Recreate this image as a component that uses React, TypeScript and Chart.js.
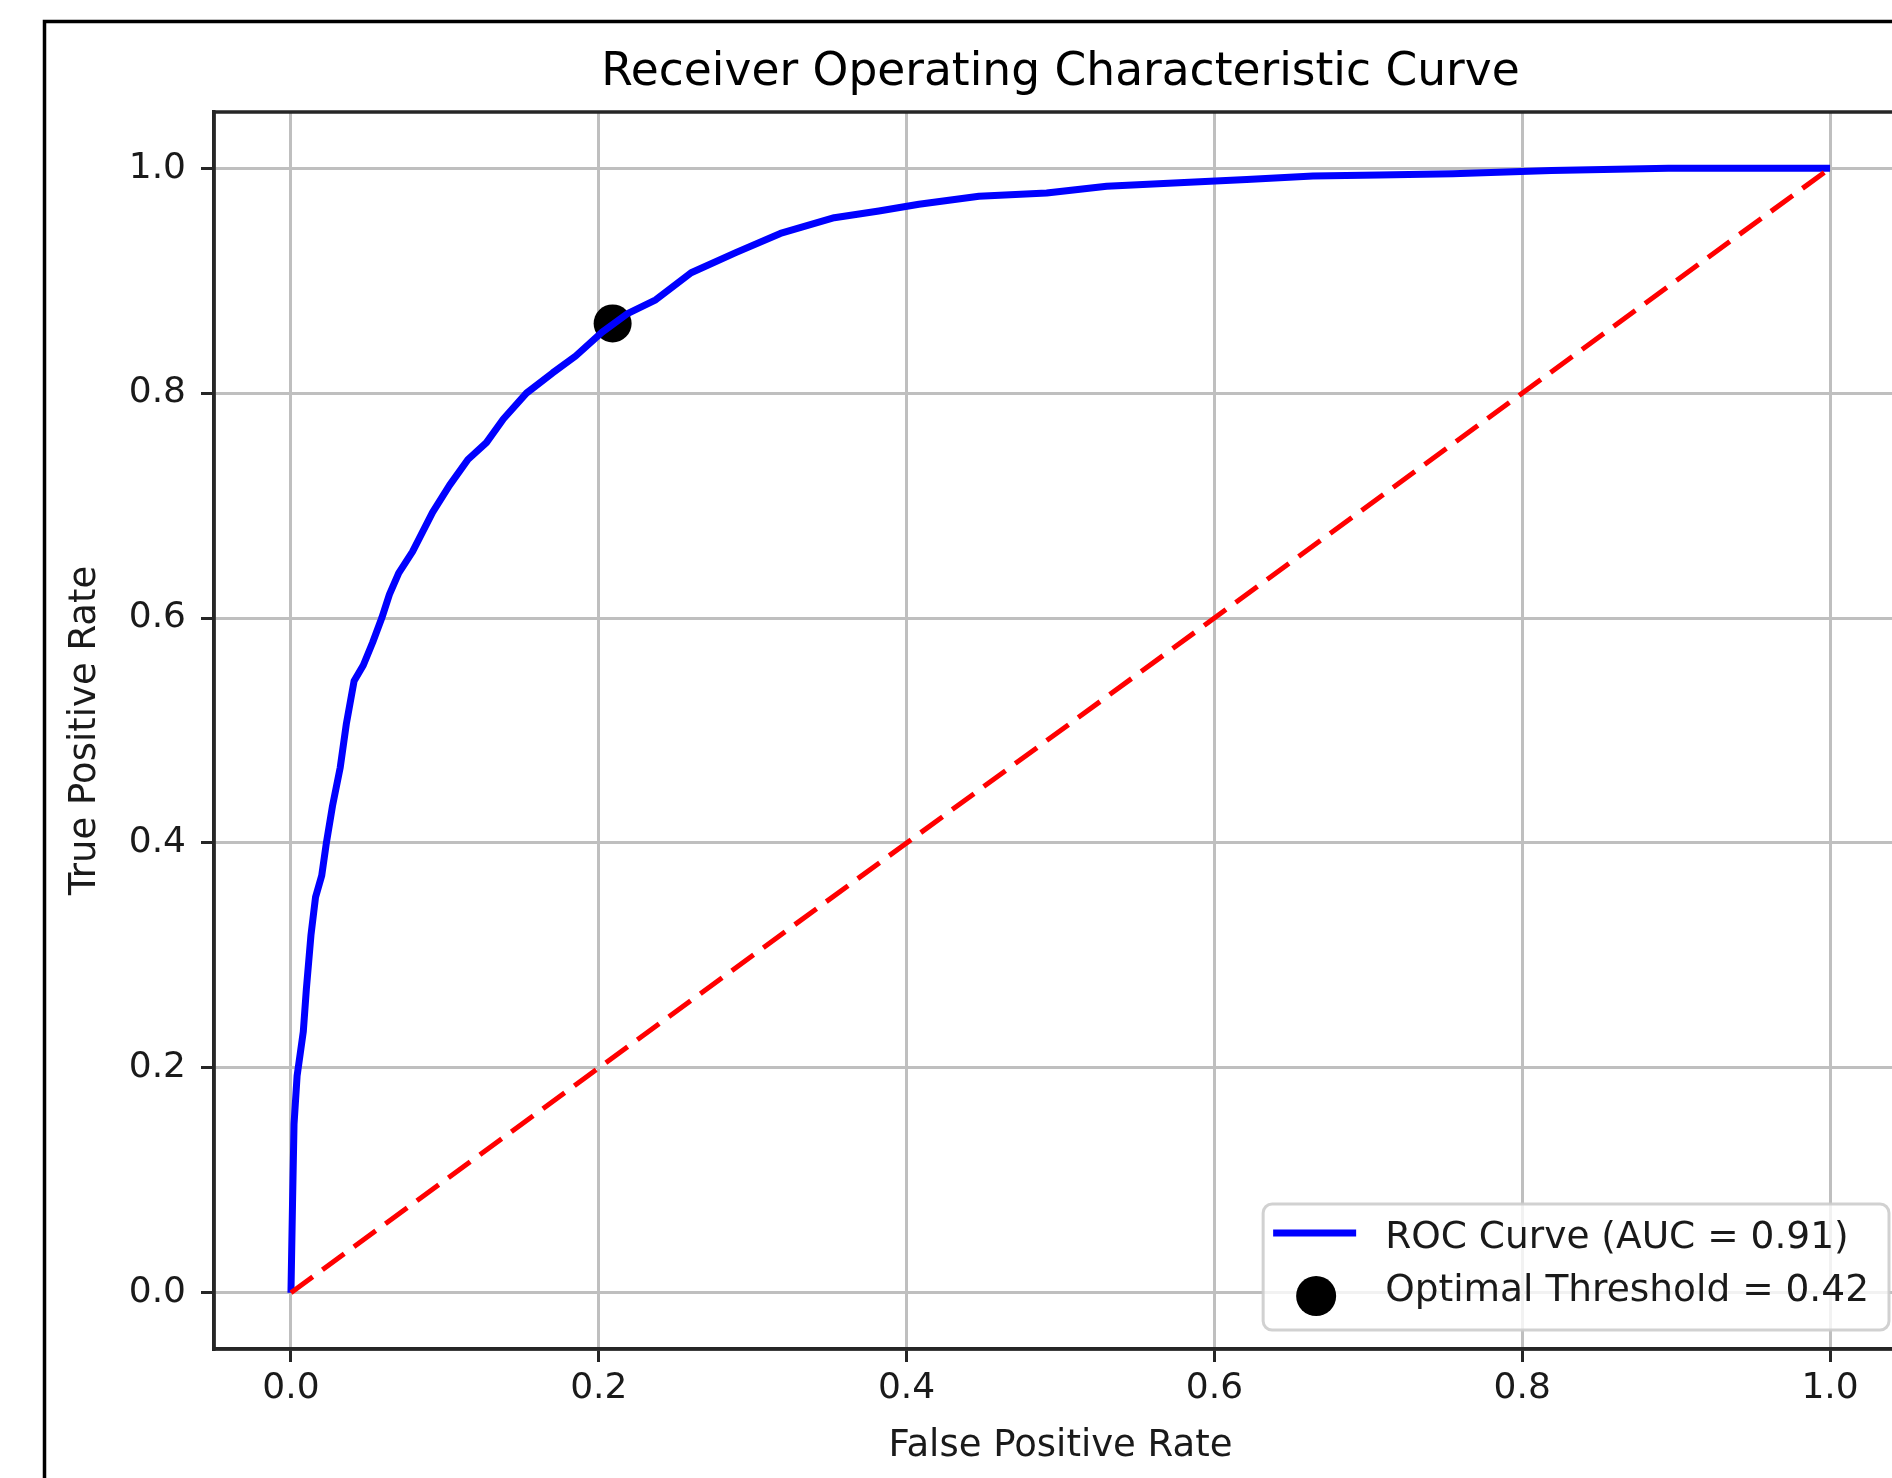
import React, { useEffect, useRef } from "react";
import { Chart, registerables } from "chart.js";

Chart.register(...registerables);

// ---- data ----
const fpr = [0, 0.001, 0.002, 0.004, 0.008, 0.010, 0.013, 0.016, 0.020, 0.023, 0.027, 0.032, 0.036, 0.041, 0.047, 0.053, 0.059, 0.064, 0.070, 0.079, 0.092, 0.103, 0.115, 0.127, 0.138, 0.153, 0.170, 0.185, 0.202, 0.219, 0.237, 0.260, 0.289, 0.318, 0.353, 0.382, 0.408, 0.447, 0.491, 0.530, 0.577, 0.621, 0.664, 0.707, 0.755, 0.819, 0.895, 1.0];
const tpr = [0, 0.078, 0.150, 0.193, 0.232, 0.270, 0.318, 0.352, 0.371, 0.400, 0.433, 0.467, 0.506, 0.544, 0.558, 0.578, 0.600, 0.621, 0.640, 0.659, 0.694, 0.718, 0.741, 0.756, 0.777, 0.800, 0.818, 0.833, 0.854, 0.871, 0.883, 0.907, 0.925, 0.942, 0.956, 0.962, 0.968, 0.975, 0.978, 0.984, 0.987, 0.990, 0.993, 0.994, 0.995, 0.998, 1.0, 1.0];
const chanceX = [0, 1];
const chanceY = [0, 1];
const optimalFpr = [0.209];
const optimalTpr = [0.862];
const tickValues = [0, 0.2, 0.4, 0.6, 0.8, 1.0];
const titleText = "Receiver Operating Characteristic Curve";
const xLabel = "False Positive Rate";
const yLabel = "True Positive Rate";
const legendLabels = ["ROC Curve (AUC = 0.91)", "Optimal Threshold = 0.42"];

const FONT = "'DejaVu Sans', sans-serif";
const CANVAS_W = 1960;
const CANVAS_H = 1540;

const decorPlugin = {
  id: "decor",
  beforeDraw(chart: any) {
    const ctx = chart.ctx;
    ctx.save();
    ctx.fillStyle = "#ffffff";
    ctx.fillRect(0, 0, chart.width, chart.height);
    // outer figure frame
    ctx.strokeStyle = "#000000";
    ctx.lineWidth = 3.5;
    ctx.strokeRect(44.5, 21.5, 4000, 4000);
    ctx.restore();
  },
  afterDraw(chart: any) {
    const ctx = chart.ctx;
    const { left, top, right, bottom } = chart.chartArea;
    ctx.save();
    // spines
    ctx.strokeStyle = "#262626";
    ctx.lineWidth = 3.5;
    ctx.strokeRect(left, top, right - left, bottom - top);

    // title
    ctx.fillStyle = "#000000";
    ctx.font = `45.5px ${FONT}`;
    ctx.textAlign = "center";
    ctx.textBaseline = "middle";
    ctx.fillText(titleText, (left + right) / 2, 73);

    // legend
    ctx.font = `37.5px ${FONT}`;
    const maxW = Math.max(...legendLabels.map((t) => ctx.measureText(t).width));
    const boxRight = right - 18;
    const boxBottom = bottom - 19;
    const boxH = 126;
    const boxW = 10 + 83 + 29 + maxW + 20;
    const boxLeft = boxRight - boxW;
    const boxTop = boxBottom - boxH;
    ctx.beginPath();
    (ctx as any).roundRect(boxLeft, boxTop, boxW, boxH, 9);
    ctx.fillStyle = "rgba(255,255,255,0.8)";
    ctx.fill();
    ctx.strokeStyle = "rgba(204,204,204,0.9)";
    ctx.lineWidth = 3;
    ctx.stroke();

    const ds = chart.data.datasets;
    // line handle
    ctx.strokeStyle = ds[1].borderColor;
    ctx.lineWidth = ds[1].borderWidth;
    ctx.beginPath();
    ctx.moveTo(boxLeft + 10, boxTop + 29);
    ctx.lineTo(boxLeft + 93, boxTop + 29);
    ctx.stroke();
    // marker handle
    ctx.fillStyle = ds[2].backgroundColor;
    ctx.beginPath();
    ctx.arc(boxLeft + 53, boxTop + 92, 20, 0, Math.PI * 2);
    ctx.fill();
    // texts
    ctx.fillStyle = "#1a1a1a";
    ctx.textAlign = "left";
    ctx.textBaseline = "middle";
    ctx.fillText(legendLabels[0], boxLeft + 122, boxTop + 34);
    ctx.fillText(legendLabels[1], boxLeft + 122, boxTop + 87);
    ctx.restore();
  },
};

export default function App() {
  const canvasRef = useRef<HTMLCanvasElement | null>(null);

  useEffect(() => {
    if (!canvasRef.current) return;
    const rocData = fpr.map((x, i) => ({ x, y: tpr[i] }));
    const chanceData = chanceX.map((x, i) => ({ x, y: chanceY[i] }));
    const optData = optimalFpr.map((x, i) => ({ x, y: optimalTpr[i] }));

    const gridOpts = {
      color: "#bfbfbf",
      lineWidth: 3,
      tickColor: "#262626",
      tickWidth: 3,
      tickLength: 13,
      drawTicks: true,
    };

    const chart = new Chart(canvasRef.current, {
      type: "scatter",
      data: {
        datasets: [
          {
            label: "Chance",
            type: "line",
            data: chanceData,
            borderColor: "#ff0000",
            borderWidth: 5,
            borderDash: [27, 12],
            pointRadius: 0,
            fill: false,
            tension: 0,
            order: 0,
          } as any,
          {
            label: legendLabels[0],
            type: "line",
            data: rocData,
            borderColor: "#0000ff",
            borderWidth: 7,
            pointRadius: 0,
            fill: false,
            tension: 0,
            borderJoinStyle: "round",
            order: 1,
          } as any,
          {
            label: legendLabels[1],
            type: "scatter",
            data: optData,
            backgroundColor: "#000000",
            borderWidth: 0,
            pointRadius: 19,
            pointHoverRadius: 19,
            order: 2,
          } as any,
        ],
      },
      options: {
        animation: false,
        responsive: false,
        devicePixelRatio: 1,
        events: [],
        layout: { padding: { left: 0, right: 53, top: 112, bottom: 41 } },
        plugins: {
          legend: { display: false },
          tooltip: { enabled: false },
          title: { display: false },
        },
        scales: {
          x: {
            type: "linear",
            min: -0.05,
            max: 1.05,
            afterBuildTicks: (s: any) => {
              s.ticks = tickValues.map((v) => ({ value: v }));
            },
            afterFit: (s: any) => {
              s.height = 150;
            },
            grid: gridOpts,
            border: { color: "#262626", width: 3.5 },
            ticks: {
              callback: (v: any) => Number(v).toFixed(1),
              font: { family: FONT, size: 36 },
              color: "#1a1a1a",
              padding: 5,
              maxRotation: 0,
              autoSkip: false,
            },
            title: {
              display: true,
              text: xLabel,
              font: { family: FONT, size: 37 },
              color: "#1a1a1a",
              padding: { top: 0, bottom: 30 },
            },
          },
          y: {
            type: "linear",
            min: -0.05,
            max: 1.05,
            afterBuildTicks: (s: any) => {
              s.ticks = tickValues.map((v) => ({ value: v }));
            },
            afterFit: (s: any) => {
              s.width = 214;
            },
            grid: gridOpts,
            border: { color: "#262626", width: 3.5 },
            ticks: {
              callback: (v: any) => Number(v).toFixed(1),
              font: { family: FONT, size: 36 },
              color: "#1a1a1a",
              padding: 15,
              autoSkip: false,
            },
            title: {
              display: true,
              text: yLabel,
              font: { family: FONT, size: 37 },
              color: "#1a1a1a",
              padding: { top: 63, bottom: 0 },
            },
          },
        },
      },
      plugins: [decorPlugin],
    } as any);

    return () => chart.destroy();
  }, []);

  return (
    <div
      style={{
        position: "fixed",
        left: 0,
        top: 0,
        width: 1892,
        height: 1478,
        overflow: "hidden",
        background: "#ffffff",
      }}
    >
      <canvas
        ref={canvasRef}
        width={CANVAS_W}
        height={CANVAS_H}
        style={{ display: "block", width: CANVAS_W, height: CANVAS_H }}
      />
    </div>
  );
}
